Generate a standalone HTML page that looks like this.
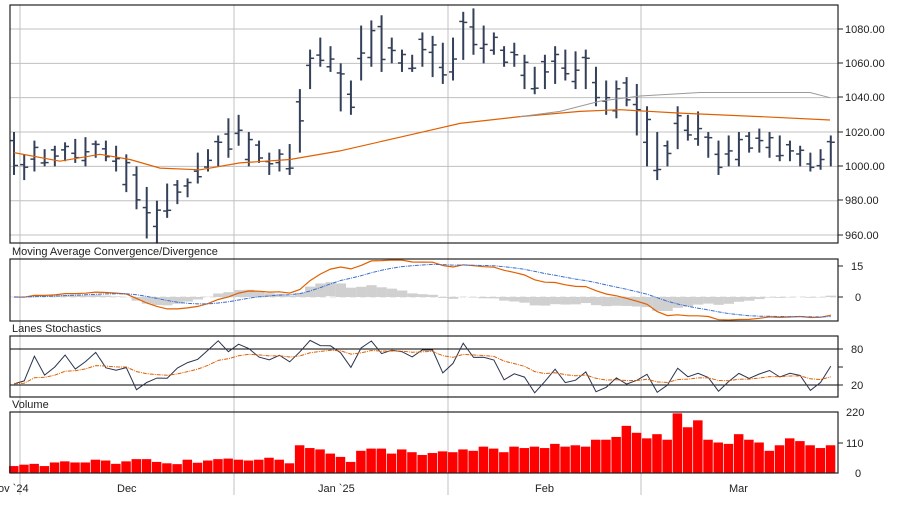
<!DOCTYPE html>
<html><head><meta charset="utf-8"><style>
body{margin:0;background:#fff;font-family:"Liberation Sans",sans-serif;}
svg text{font-family:"Liberation Sans",sans-serif;font-size:11px;fill:#222;}
</style></head><body>
<svg id="s" width="900" height="500" xmlns="http://www.w3.org/2000/svg">
<rect width="900" height="500" fill="#fff"/>
<g id="grid"></g>
<g id="main"></g>
<rect x="10" y="5" width="828" height="238" fill="none" stroke="#222" stroke-width="1.2"/>
<rect x="10" y="259" width="828" height="62" fill="none" stroke="#222" stroke-width="1.2"/>
<rect x="10" y="336" width="828" height="61" fill="none" stroke="#222" stroke-width="1.2"/>
<rect x="10" y="412" width="828" height="61" fill="none" stroke="#222" stroke-width="1.2"/>
<text x="12" y="255">Moving Average Convergence/Divergence</text>
<text x="12" y="332">Lanes Stochastics</text>
<text x="12" y="408">Volume</text>
<g id="ticks" stroke="#222"></g>
<text x="845" y="33">1080.00</text><text x="845" y="67">1060.00</text><text x="845" y="101">1040.00</text>
<text x="845" y="136">1020.00</text><text x="845" y="170">1000.00</text><text x="845" y="204">980.00</text>
<text x="845" y="239">960.00</text>
<text x="851" y="270">15</text><text x="855" y="301">0</text>
<text x="851" y="353">80</text><text x="851" y="389">20</text>
<text x="846" y="416">220</text><text x="846" y="447">110</text><text x="855" y="477">0</text>
<text x="-2" y="492">ov `24</text><text x="117" y="492">Dec</text><text x="318" y="492">Jan `25</text>
<text x="535" y="492">Feb</text><text x="729" y="492">Mar</text>
</svg>
<script>
var R=[[995,1020],[992,1007],[997,1015],[1000,1010],[1000,1012],[1003,1014],[1002,1016],[1000,1017],[1005,1015],[1003,1015],
[997,1012],[985,1007],[975,1000],[958,988],[955,980],[970,990],[978,992],[982,993],[990,1008],[997,1010],
[1000,1018],[1005,1028],[1012,1030],[1000,1020],[1002,1015],[995,1008],[997,1010],[995,1013],[1008,1045],[1045,1068],
[1058,1075],[1055,1070],[1032,1060],[1030,1050],[1050,1082],[1058,1085],[1055,1088],[1060,1075],[1055,1068],[1055,1065],
[1058,1078],[1052,1076],[1048,1072],[1050,1075],[1062,1090],[1065,1092],[1060,1082],[1065,1078],[1058,1070],[1058,1072],
[1045,1065],[1042,1058],[1045,1065],[1048,1070],[1050,1068],[1045,1067],[1045,1068],[1035,1058],[1030,1050],[1028,1050],
[1035,1052],[1018,1048],[1000,1035],[992,1020],[1000,1015],[1010,1035],[1015,1030],[1012,1032],[1005,1020],[995,1015],
[1000,1018],[1000,1020],[1008,1020],[1008,1022],[1005,1020],[1003,1018],[1003,1015],[1000,1012],[997,1008],[998,1010],[1000,1018]];
var V=[25,30,33,25,38,42,38,38,48,45,33,42,50,50,40,35,32,48,37,45,50,52,48,45,48,55,48,35,100,90,85,70,58,40,80,88,88,70,85,75,
65,72,78,75,85,80,95,88,75,95,90,95,90,105,95,100,95,120,120,130,170,145,125,140,120,215,165,190,120,110,105,140,120,110,80,100,125,115,100,90,100];
var n=R.length,ns="http://www.w3.org/2000/svg",s=document.getElementById('s');
function X(i){return 14+i*10.21;}
function Y(v){return 29+(1080-v)*1.717;}
function add(p,tag,a){var e=document.createElementNS(ns,tag);for(var k in a)e.setAttribute(k,a[k]);(typeof p=='string'?document.getElementById(p):p).appendChild(e);return e;}
var g=document.getElementById('grid');
[1080,1060,1040,1020,1000,980,960].forEach(function(v){add(g,'line',{x1:10,x2:838,y1:Y(v),y2:Y(v),stroke:'#c0c0c0'});});
[20,234,448,641].forEach(function(x){add(g,'line',{x1:x,x2:x,y1:5,y2:495,stroke:'#c0c0c0'});});
add(g,'line',{x1:10,x2:838,y1:297,y2:297,stroke:'#ddd','stroke-dasharray':'6,4'});
add(g,'line',{x1:10,x2:838,y1:349,y2:349,stroke:'#000'});
add(g,'line',{x1:10,x2:838,y1:385,y2:385,stroke:'#000'});
var t=document.getElementById('ticks');
[[29],[63],[97],[132],[166],[200],[235],[266],[297],[349],[367],[385],[443]].forEach(function(a){add(t,'line',{x1:838,x2:843,y1:a[0],y2:a[0]});});
var C=[];
for(var i=0;i<n;i++){var l=R[i][0],h=R[i][1],c=(h+l)/2+((i%3)-1)*(h-l)*0.28,o=(h+l)/2-((i%4)-1.5)*(h-l)*0.2;C.push(c);
var x=X(i);add('main','line',{x1:x,x2:x,y1:Y(h),y2:Y(l),stroke:'#34405a','stroke-width':2});
add('main','line',{x1:x-4,x2:x,y1:Y(o),y2:Y(o),stroke:'#34405a','stroke-width':1.5});
add('main','line',{x1:x,x2:x+4,y1:Y(c),y2:Y(c),stroke:'#34405a','stroke-width':1.5});
var vh=V[i]*61/220;add('main','rect',{x:x-5,y:473-vh,width:9.5,height:vh,fill:'#ff0000'});}
function pl(pts,col,w,d){add('main','polyline',{points:pts.map(function(p){return p[0].toFixed(1)+','+p[1].toFixed(1)}).join(' '),fill:'none',stroke:col,'stroke-width':w||1,'stroke-dasharray':d||''});}
var ma=[[14,1008],[60,1003],[100,1007],[130,1004],[160,999],[200,998],[240,1002],[290,1004],[340,1009],[400,1017],[460,1025],[520,1029],[580,1032],[620,1033],[680,1031],[760,1029],[830,1027]];
pl(ma.map(function(p){return [p[0],Y(p[1])]}),'#e06000',1.2);
var ma2=[[520,1029],[560,1032],[600,1038],[640,1041],[700,1043],[760,1043],[810,1043],[830,1040]];
pl(ma2.map(function(p){return [p[0],Y(p[1])]}),'#999',1);
var e12=C[0],e26=C[0],sig=0,M=[],S=[];
for(i=0;i<n;i++){e12+=(C[i]-e12)*2/13;e26+=(C[i]-e26)*2/27;var m=e12-e26;sig+=(m-sig)*2/10;M.push(m);S.push(sig);}
var sc=2.1;
for(i=0;i<n;i++){var hv=(M[i]-S[i])*sc*1.0;add('main','rect',{x:X(i)-5,y:hv>0?297-hv:297,width:10.3,height:Math.min(Math.abs(hv),14),fill:'#d0d0d0'});}
function cl(v){return Math.max(260,Math.min(320,v));}
pl(M.map(function(m,i){return [X(i),cl(297-m*sc)]}),'#e06000',1.2);
pl(S.map(function(m,i){return [X(i),cl(297-m*sc)]}),'#3a6fd0',1,'4,1,1,1');
var K=[],D=[];
for(i=0;i<n;i++){var lo=1e9,hi=-1e9;for(var j=Math.max(0,i-13);j<=i;j++){lo=Math.min(lo,R[j][0]);hi=Math.max(hi,R[j][1]);}K.push(hi>lo?(C[i]-lo)/(hi-lo)*100:50);}
var d=K[0];for(i=0;i<n;i++){d+=(K[i]-d)*0.2;D.push(d);}
function SY(v){return 385-(v-20)*0.6;}
pl(K.map(function(k,i){return [X(i),Math.max(337,Math.min(396,SY(k)))]}),'#2a3450',1);
pl(D.map(function(k,i){return [X(i),SY(k)]}),'#e06000',1,'4,1,1,1');
</script>
</body></html>
